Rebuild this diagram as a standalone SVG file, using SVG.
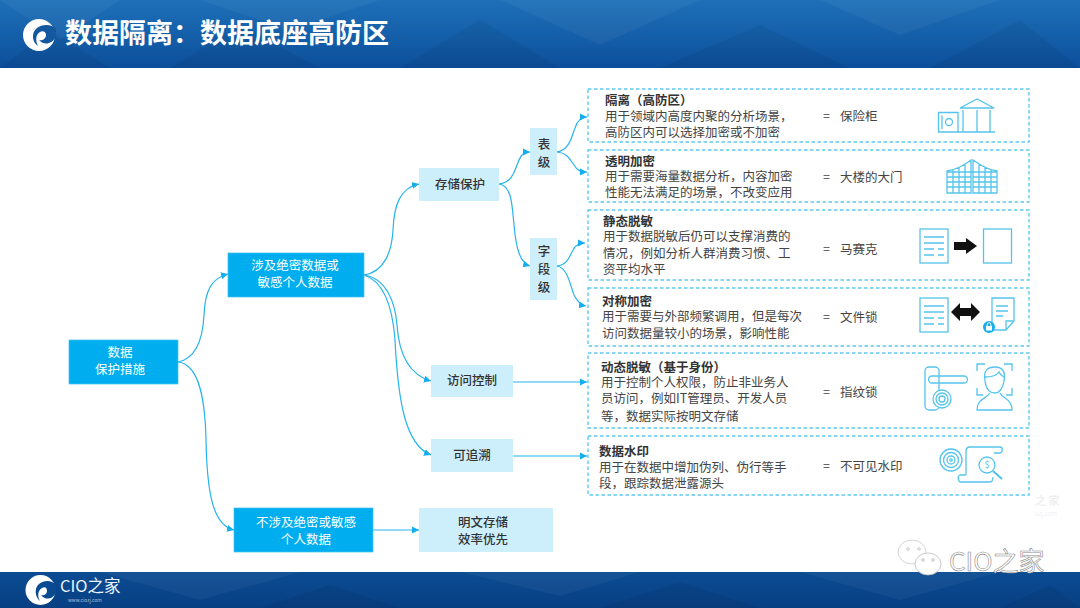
<svg xmlns="http://www.w3.org/2000/svg" width="1080" height="608" viewBox="0 0 1080 608">
<style>
text{font-family:"Noto Sans CJK SC","Liberation Sans",sans-serif;text-spacing-trim:space-all}
.w{fill:#fff;font-size:12.5px;text-anchor:middle}
.d{fill:#333;font-size:12.5px;text-anchor:middle;font-weight:500}
.body{fill:#444;font-size:12.5px}
.t{fill:#333;font-weight:700}
.e{fill:#444;font-size:12.5px}
.blue{fill:#00aeef;stroke:#3fc0f2;stroke-width:.7}
.light{fill:#cdeefb}
.dash{fill:#fff;stroke:#5fc9ee;stroke-width:1.4;stroke-dasharray:3.5 2.5}
.c{fill:none;stroke:#27b4ec;stroke-width:1.2;marker-end:url(#arrow)}
.i{fill:none;stroke:#55c4ec;stroke-width:1.3}
.poly{fill:#fff;opacity:.045}
.polyd{fill:#000;opacity:.05}
</style>
<defs>
<marker id="arrow" markerUnits="userSpaceOnUse" markerWidth="8" markerHeight="8" refX="7" refY="4" orient="auto"><path d="M0,.5 L7,4 L0,7.5 Z" fill="#12aeee"/></marker>
<linearGradient id="hd" x1="0" y1="0" x2="0" y2="1"><stop offset="0" stop-color="#1e70b8"/><stop offset="1" stop-color="#0c4f9b"/></linearGradient>
<linearGradient id="ft" x1="0" y1="0" x2="0" y2="1"><stop offset="0" stop-color="#0b4c93"/><stop offset="1" stop-color="#083f83"/></linearGradient>
</defs>
<rect width="1080" height="608" fill="#fff"/>
<g id="header">
<rect width="1080" height="68" fill="url(#hd)"/>
<path class="poly" d="M0,0H120L60,40ZM200,0H380L290,30ZM500,0H700L600,45ZM820,0H1000L900,35Z"/>
<path class="polyd" d="M0,68L50,30L110,68ZM170,68L240,25L320,68ZM400,68L480,20L560,68ZM660,68L760,25L850,68ZM930,68L1020,20L1080,68Z"/>
<circle cx="39" cy="35" r="16" fill="#fff"/>
<path d="M56,29 C52,24 42,24 37,28 C31,33 32,42 38,46 C35,40 36,34 40,32 C43,30 46,32 46,35 C46,39 42,41 39,40 C44,46 52,44 56,37Z" fill="#14599f"/>
<text x="65" y="42.500" font-size="27" font-weight="700" fill="#fff">数据隔离：数据底座高防区</text>
</g>
<g id="footer">
<rect y="572" width="1080" height="36" fill="url(#ft)"/>
<path class="poly" d="M100,572H300L200,600ZM460,572H640L560,596ZM800,572H1000L900,600Z"/>
<path class="polyd" d="M260,608L330,585L400,608ZM600,608L680,582L760,608ZM1000,608L1050,585L1080,608Z"/>
<circle cx="40.500" cy="590" r="15" fill="#fff"/>
<path d="M56,585 C52,580 44,580 39,584 C34,588 35,597 40,601 C37,596 38,590 42,588 C45,586 47,588 47,591 C47,594 44,596 41,595 C46,601 53,599 56,593Z" fill="#0a4a90"/>
<text font-size="16.500" fill="#eaf3fb"><tspan x="60" y="592">CIO之家</tspan><tspan x="68" y="602" font-size="4.800" fill="#a9c3de">www.ciozj.com</tspan></text>
</g>
<g id="watermark">
<text font-size="11" font-weight="700" fill="#efefef"><tspan x="1035" y="505">之 家</tspan><tspan x="1035" y="516" font-size="6" font-weight="400">uzj.com</tspan></text>
<ellipse cx="912" cy="552" rx="14" ry="12" fill="#fff" stroke="#ccc" stroke-width=".8"/>
<circle cx="908" cy="549" r="1.300" fill="none" stroke="#aaa" stroke-width=".6"/><circle cx="919" cy="549" r="1.300" fill="none" stroke="#aaa" stroke-width=".6"/>
<ellipse cx="928" cy="564" rx="13" ry="11" fill="#fff" stroke="#bbb" stroke-width=".8"/>
<circle cx="923" cy="560" r="1.300" fill="none" stroke="#999" stroke-width=".6"/><circle cx="933" cy="560" r="1.300" fill="none" stroke="#999" stroke-width=".6"/>
<text x="949" y="571" font-size="26" fill="#fff" stroke="#8a8a8a" stroke-width=".6">CIO之家</text>
</g>
<g id="connectors">
<path class="c" d="M178,362 C198,358 203,335 204,315 C205,290 212,278 228,274"/>
<path class="c" d="M178,362 C198,364 205,395 206,440 C207,490 212,525 234,530"/>
<path class="c" d="M364,275 C385,272 392,250 393,230 C394,205 400,188 419,184"/>
<path class="c" d="M364,275 C385,278 395,300 397,325 C399,355 410,375 431,381"/>
<path class="c" d="M364,275 C380,280 392,300 395,340 C398,400 405,445 431,455"/>
<path class="c" d="M373,530 H419"/>
<path class="c" d="M499,184 C512,183 515,170 517,165 C520,157 522,152 530,152"/>
<path class="c" d="M499,184 C512,186 512,205 514,225 C516,248 520,263 530,266"/>
<path class="c" d="M557,152 C570,150 572,135 575,128 C577,121 580,117 587,117"/>
<path class="c" d="M557,152 C568,153 570,160 574,165 C577,170 580,172 587,172"/>
<path class="c" d="M557,266 C568,265 570,255 573,250 C576,244 580,243 585,243"/>
<path class="c" d="M557,266 C568,268 570,285 574,295 C577,301 580,305 586,306"/>
<path class="c" d="M513,382 H587"/>
<path class="c" d="M513,456 H587"/>
</g>
<g id="n-root"><rect class="blue" x="69" y="340" width="109" height="44"/><text class="w"><tspan x="120" y="357">数据</tspan><tspan x="120" y="373.500">保护措施</tspan></text></g>
<g id="n-sensitive"><rect class="blue" x="228" y="253" width="136" height="44"/><text class="w"><tspan x="295" y="270">涉及绝密数据或</tspan><tspan x="295" y="286.500">敏感个人数据</tspan></text></g>
<g id="n-nonsensitive"><rect class="blue" x="234" y="508" width="139" height="44"/><text class="w"><tspan x="306" y="527">不涉及绝密或敏感</tspan><tspan x="306" y="543.500">个人数据</tspan></text></g>
<g id="n-plain"><rect class="light" x="419" y="508" width="134" height="44"/><text class="d"><tspan x="483" y="527">明文存储</tspan><tspan x="483" y="544">效率优先</tspan></text></g>
<g id="n-storage"><rect class="light" x="419" y="168" width="80" height="33"/><text class="d" x="460" y="188.500">存储保护</text></g>
<g id="n-table"><rect class="light" x="530" y="128" width="27" height="47"/><text class="d"><tspan x="544" y="148.500">表</tspan><tspan x="544" y="167">级</tspan></text></g>
<g id="n-field"><rect class="light" x="530" y="238" width="27" height="62"/><text class="d"><tspan x="544" y="255.500">字</tspan><tspan x="544" y="273.500">段</tspan><tspan x="544" y="291.500">级</tspan></text></g>
<g id="n-access"><rect class="light" x="431" y="365" width="82" height="32"/><text class="d" x="472" y="384.500">访问控制</text></g>
<g id="n-trace"><rect class="light" x="431" y="439" width="82" height="33"/><text class="d" x="472" y="459.500">可追溯</text></g>

<g id="n-isolate"><rect class="dash" x="588" y="89" width="441" height="53"/>
<text class="body"><tspan class="t" x="605" y="104.500">隔离（高防区）</tspan><tspan x="605" y="120.500">用于领域内高度内聚的分析场景，</tspan><tspan x="605" y="136.500">高防区内可以选择加密或不加密</tspan></text>
<text class="e"><tspan x="823" y="120.500">=</tspan><tspan x="840" y="120.500">保险柜</tspan></text>
<path class="i" d="M938.500,112.500H958V132H938.500ZM942,115.500V129M960,108L977,99L994,108H960M963,110V132M977,110V132M990,110V132M958,132H995"/><circle class="i" cx="949" cy="122" r="3.500"/></g>
<g id="n-encrypt"><rect class="dash" x="588" y="150" width="441" height="52"/>
<text class="body"><tspan class="t" x="605" y="165.500">透明加密</tspan><tspan x="605" y="180.500">用于需要海量数据分析，内容加密</tspan><tspan x="605" y="196.500">性能无法满足的场景，不改变应用</tspan></text>
<text class="e"><tspan x="823" y="181.500">=</tspan><tspan x="840" y="181.500">大楼的大门</tspan></text>
<path class="i" d="M947,193V171C955,170 965,165 971,160V193ZM973,193V160C980,165 988,170 997,171V193ZM947,177H971M947,182H971M947,187H971M973,177H997M973,182H997M973,187H997M953,169V193M959,167V193M965,164V193M979,164V193M985,167V193M991,169V193M947,172H997"/></g>
<g id="n-mask"><rect class="dash" x="588" y="210" width="441" height="70"/>
<text class="body"><tspan class="t" x="603" y="225.500">静态脱敏</tspan><tspan x="603" y="240.500">用于数据脱敏后仍可以支撑消费的</tspan><tspan x="603" y="257.500">情况，例如分析人群消费习惯、工</tspan><tspan x="603" y="273.500">资平均水平</tspan></text>
<text class="e"><tspan x="823" y="253.500">=</tspan><tspan x="840" y="253.500">马赛克</tspan></text>
<rect class="i" x="920" y="229" width="28" height="34"/><path class="i" d="M924,237H944M924,243H944M924,249H934M938,249H944M924,255H934M938,255H944"/>
<path d="M954,242H966V238L977,246L966,254V250H954Z" fill="#111"/><rect class="i" x="983.500" y="229" width="28" height="34"/></g>
<g id="n-sym"><rect class="dash" x="588" y="288" width="441" height="58"/>
<text class="body"><tspan class="t" x="602" y="305.500">对称加密</tspan><tspan x="602" y="320.500">用于需要与外部频繁调用，但是每次</tspan><tspan x="602" y="337.500">访问数据量较小的场景，影响性能</tspan></text>
<text class="e"><tspan x="823" y="321.500">=</tspan><tspan x="840" y="321.500">文件锁</tspan></text>
<rect class="i" x="920" y="298" width="28" height="34"/><path class="i" d="M924,306H944M924,312H944M924,318H934M938,318H944M924,324H934M938,324H944"/>
<path d="M951,312L960,303V308H971V303L980,312L971,321V316H960V321Z" fill="#111"/>
<path class="i" d="M992,323V298H1014V321L1006,330H992M1006,330V321H1014M996,306H1008M996,311H1008M996,316H1003"/>
<circle cx="989" cy="327" r="6" fill="#18aeea"/><rect x="986" y="326" width="6" height="4.500" fill="#fff"/><path d="M987.200,326V324.500a1.800,1.800 0 0 1 3.600,0V326" fill="none" stroke="#fff" stroke-width=".9"/></g>
<g id="n-dynamic"><rect class="dash" x="588" y="353" width="441" height="75"/>
<text class="body"><tspan class="t" x="601" y="371.500">动态脱敏（基于身份）</tspan><tspan x="601" y="386.500">用于控制个人权限，防止非业务人</tspan><tspan x="601" y="402.500">员访问，例如IT管理员、开发人员</tspan><tspan x="601" y="420.500">等，数据实际按明文存储</tspan></text>
<text class="e"><tspan x="823" y="396.500">=</tspan><tspan x="840" y="396.500">指纹锁</tspan></text>
<rect class="i" x="925" y="367" width="14" height="43" rx="4"/><path class="i" d="M932,376H964a3.500,3.500 0 0 1 0,7H932a3.500,3.500 0 0 1 0,-7Z"/>
<circle class="i" cx="942" cy="399" r="9" style="fill:#fff"/><circle class="i" cx="942" cy="399" r="6"/><circle class="i" cx="942" cy="399" r="3"/>
<path class="i" d="M977,371V364H985M1004,364H1012V371M977,388V395H983M1006,395H1012V388M985,381C983,370 988,367 995,367C1002,367 1006,371 1004,381C1003,389 999,393 995,393C990,393 986,389 985,381ZM985,377C992,377 997,375 999,372C1000,375 1002,376 1004,377M990,393C986,399 977,399 977,410H1012C1012,399 1003,399 1000,393"/></g>
<g id="n-watermark"><rect class="dash" x="588" y="436" width="441" height="59"/>
<text class="body"><tspan class="t" x="599" y="455.500">数据水印</tspan><tspan x="599" y="471.500">用于在数据中增加伪列、伪行等手</tspan><tspan x="599" y="487.500">段，跟踪数据泄露源头</tspan></text>
<text class="e"><tspan x="823" y="470.500">=</tspan><tspan x="840" y="470.500">不可见水印</tspan></text>
<circle class="i" cx="951" cy="460" r="11"/><circle class="i" cx="951" cy="460" r="7.500"/><circle class="i" cx="951" cy="460" r="4"/><circle class="i" cx="951" cy="460" r="1.200"/>
<path class="i" d="M966,475V451C966,448 968,447 970,447H1000C1003,447 1003,452 1000,453H994M966,475H960C957,476 958,482 961,482H990C992,482 993,480 993,477"/>
<circle class="i" cx="987" cy="465" r="8"/><path d="M993,471L1002,479" stroke="#55c4ec" stroke-width="2.200"/>
<text x="987" y="468" font-size="9" fill="#55c4ec" text-anchor="middle">$</text></g>
</svg>
